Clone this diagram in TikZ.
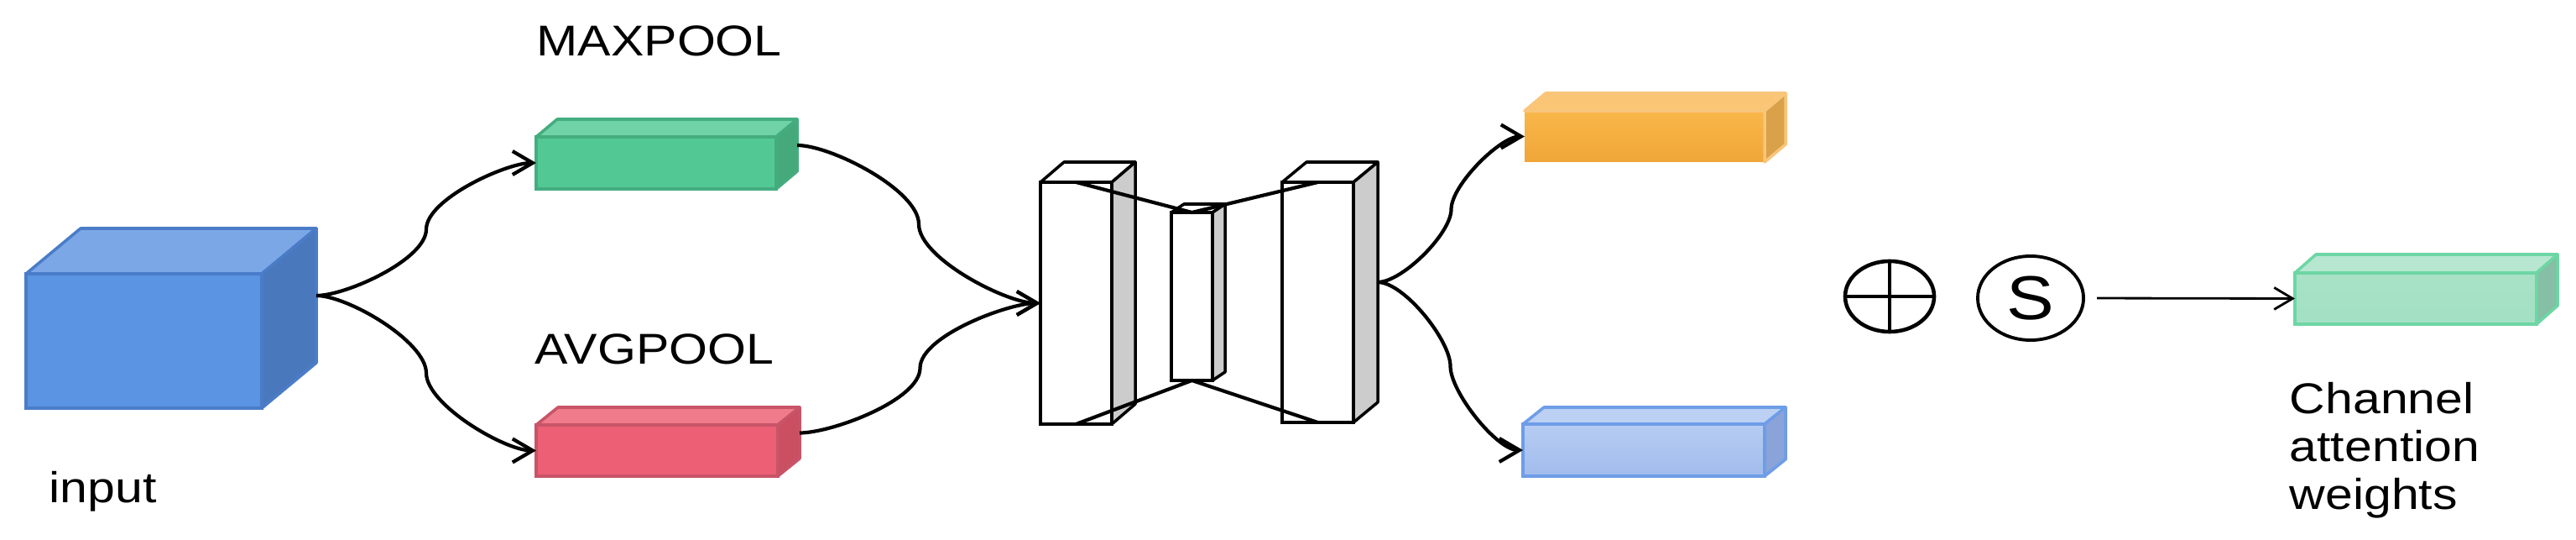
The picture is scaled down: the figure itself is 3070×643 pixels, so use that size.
\documentclass[tikz,border=0pt]{standalone}
\usepackage{fontspec}
\setmainfont{Liberation Sans}
\usetikzlibrary{arrows.meta,shapes.geometric,calc}
% colours: F front, T top, S side, E edge
\definecolor{inpF}{HTML}{5B94E2}\definecolor{inpT}{HTML}{7BA7E7}\definecolor{inpS}{HTML}{4A78BD}\definecolor{inpE}{HTML}{4A7CC8}
\definecolor{maxF}{HTML}{52C995}\definecolor{maxT}{HTML}{6FD3A7}\definecolor{maxS}{HTML}{45A97C}\definecolor{maxE}{HTML}{44AD7F}
\definecolor{avgF}{HTML}{EC5F74}\definecolor{avgT}{HTML}{F07B8B}\definecolor{avgS}{HTML}{C94F61}\definecolor{avgE}{HTML}{C85468}
\definecolor{oraF}{HTML}{F9B74A}\definecolor{oraT}{HTML}{FAC676}\definecolor{oraS}{HTML}{D8A14A}\definecolor{oraE}{HTML}{F9C57A}
\definecolor{oraB}{HTML}{F0A638}
\definecolor{lbuF}{HTML}{A4BEEE}\definecolor{lbuT}{HTML}{BBD0F3}\definecolor{lbuS}{HTML}{8AA3D8}\definecolor{lbuE}{HTML}{6E9DE8}
\definecolor{grnF}{HTML}{A4E0C4}\definecolor{grnT}{HTML}{B7E7D0}\definecolor{grnS}{HTML}{86BFA5}\definecolor{grnE}{HTML}{6DD6A5}
\definecolor{encF}{HTML}{FFFFFF}\definecolor{encT}{HTML}{FFFFFF}\definecolor{encS}{HTML}{CCCCCC}\definecolor{encE}{HTML}{000000}
\newcommand{\sx}[1]{\scalebox{1.15}[1]{#1}}
% #1 name, #2 cx, #3 cy, #4 w, #5 h, #6 dx, #7 dy, #8 colour prefix, #9 extra front style
\newcommand{\cub}[9]{%
  \node[facebox, fill=#8F, draw=#8E, minimum width=#4*0.01cm, minimum height=#5*0.01cm, #9] (#1) at (#2,#3) {};
  \filldraw[fill=#8T, draw=#8E, line width=1pt, line join=round] (#1.north west) -- ++(#6,#7) -- ++(#4,0) -- (#1.north east) -- cycle;
  \filldraw[fill=#8S, draw=#8E, line width=1pt, line join=round] (#1.north east) -- ++(#6,#7) -- ++(0,#5) -- (#1.south east) -- cycle;
  \coordinate (#1-r) at ([shift={(#6,#7)}]#1.east);
}
\tikzset{
  facebox/.style={rectangle, inner sep=0pt, outer sep=0pt, line width=1pt},
  lbl/.style={anchor=base west, inner sep=0pt, font=\fontsize{14.6}{17.5}\selectfont},
  conn/.style={line width=1.2pt, looseness=0.6, -{Straight Barb[length=2.4mm,width=2.8mm]}},
}
% curved connector: two arcs meeting vertically at the midpoint
\newcommand{\upcurve}[2]{\draw[conn] (#1) to[out=0,in=-90] ($(#1)!0.5!(#2)$) to[out=90,in=180] (#2);}
\newcommand{\downcurve}[2]{\draw[conn] (#1) to[out=0,in=90] ($(#1)!0.5!(#2)$) to[out=-90,in=180] (#2);}
\begin{document}
\begin{tikzpicture}[x=0.01cm,y=-0.01cm]
\useasboundingbox (0,0) rectangle (3070,643);
% boxes
\cub{inp}{171.5}{406}{281}{160}{65}{-54}{inp}{}
\cub{mx}{782}{194}{286}{62}{25}{-21}{max}{}
\cub{av}{783}{536.5}{288}{61}{26}{-21}{avg}{}
\cub{encL}{1282.5}{361}{85}{288}{28}{-24}{enc}{line width=1.2pt}
\cub{encM}{1420.5}{353}{49}{200}{15}{-10}{enc}{line width=1.2pt}
\cub{encR}{1570.5}{360}{85}{286}{29}{-24}{enc}{line width=1.2pt}
\cub{ora}{1960}{162.5}{286}{61}{25}{-21}{ora}{top color=oraF, bottom color=oraB, draw=none}
\cub{lbu}{1959}{536}{288}{62}{25}{-20}{lbu}{top color=lbuT!80!lbuF, bottom color=lbuF!90!lbuS}
\cub{grn}{2879}{355.5}{288}{61}{25}{-22}{grn}{top color=grnF!80!grnT, bottom color=grnF}
% encoder-decoder connecting lines
\draw[line width=1.2pt, line join=round] (encL.north) -- (encM.north) -- (encR.north);
\draw[line width=1.2pt, line join=round] (encL.south) -- (encM.south) -- (encR.south);
% labels
\node[lbl] (tin) at (58,598) {\sx{input}};
\node[lbl] (tmax) at (639,67) {\sx{MAXPOOL}};
\node[lbl] (tavg) at (637,433) {\sx{AVGPOOL}};
\node[lbl] (tc1) at (2728,492) {\sx{Channel}};
\node[lbl] (tc2) at (2728,549) {\sx{attention}};
\node[lbl] (tc3) at (2728,606) {\sx{weights}};
% operators
\node[ellipse, draw, line width=1.3pt, minimum width=1.06cm, minimum height=0.84cm, inner sep=0pt] (oplus) at (2252,353) {};
\draw[line width=1.3pt] (oplus.north) -- (oplus.south) (oplus.west) -- (oplus.east);
\node[ellipse, draw, line width=1.1pt, minimum width=1.26cm, minimum height=1.0cm, inner sep=0pt, font=\fontsize{21}{24}\selectfont] (sig) at (2420,355) {\sx{S}};
% connectors
\upcurve{inp-r}{mx.west}
\downcurve{inp-r}{av.west}
\downcurve{mx-r}{encL.west}
\upcurve{av-r}{encL.west}
\upcurve{encR-r}{ora.west}
\downcurve{encR-r}{lbu.west}
\draw[line width=0.8pt, -{Straight Barb[length=2.2mm,width=2.6mm]}, shorten <=0.14cm] (sig.east) -- (grn.west);
\end{tikzpicture}
\end{document}
